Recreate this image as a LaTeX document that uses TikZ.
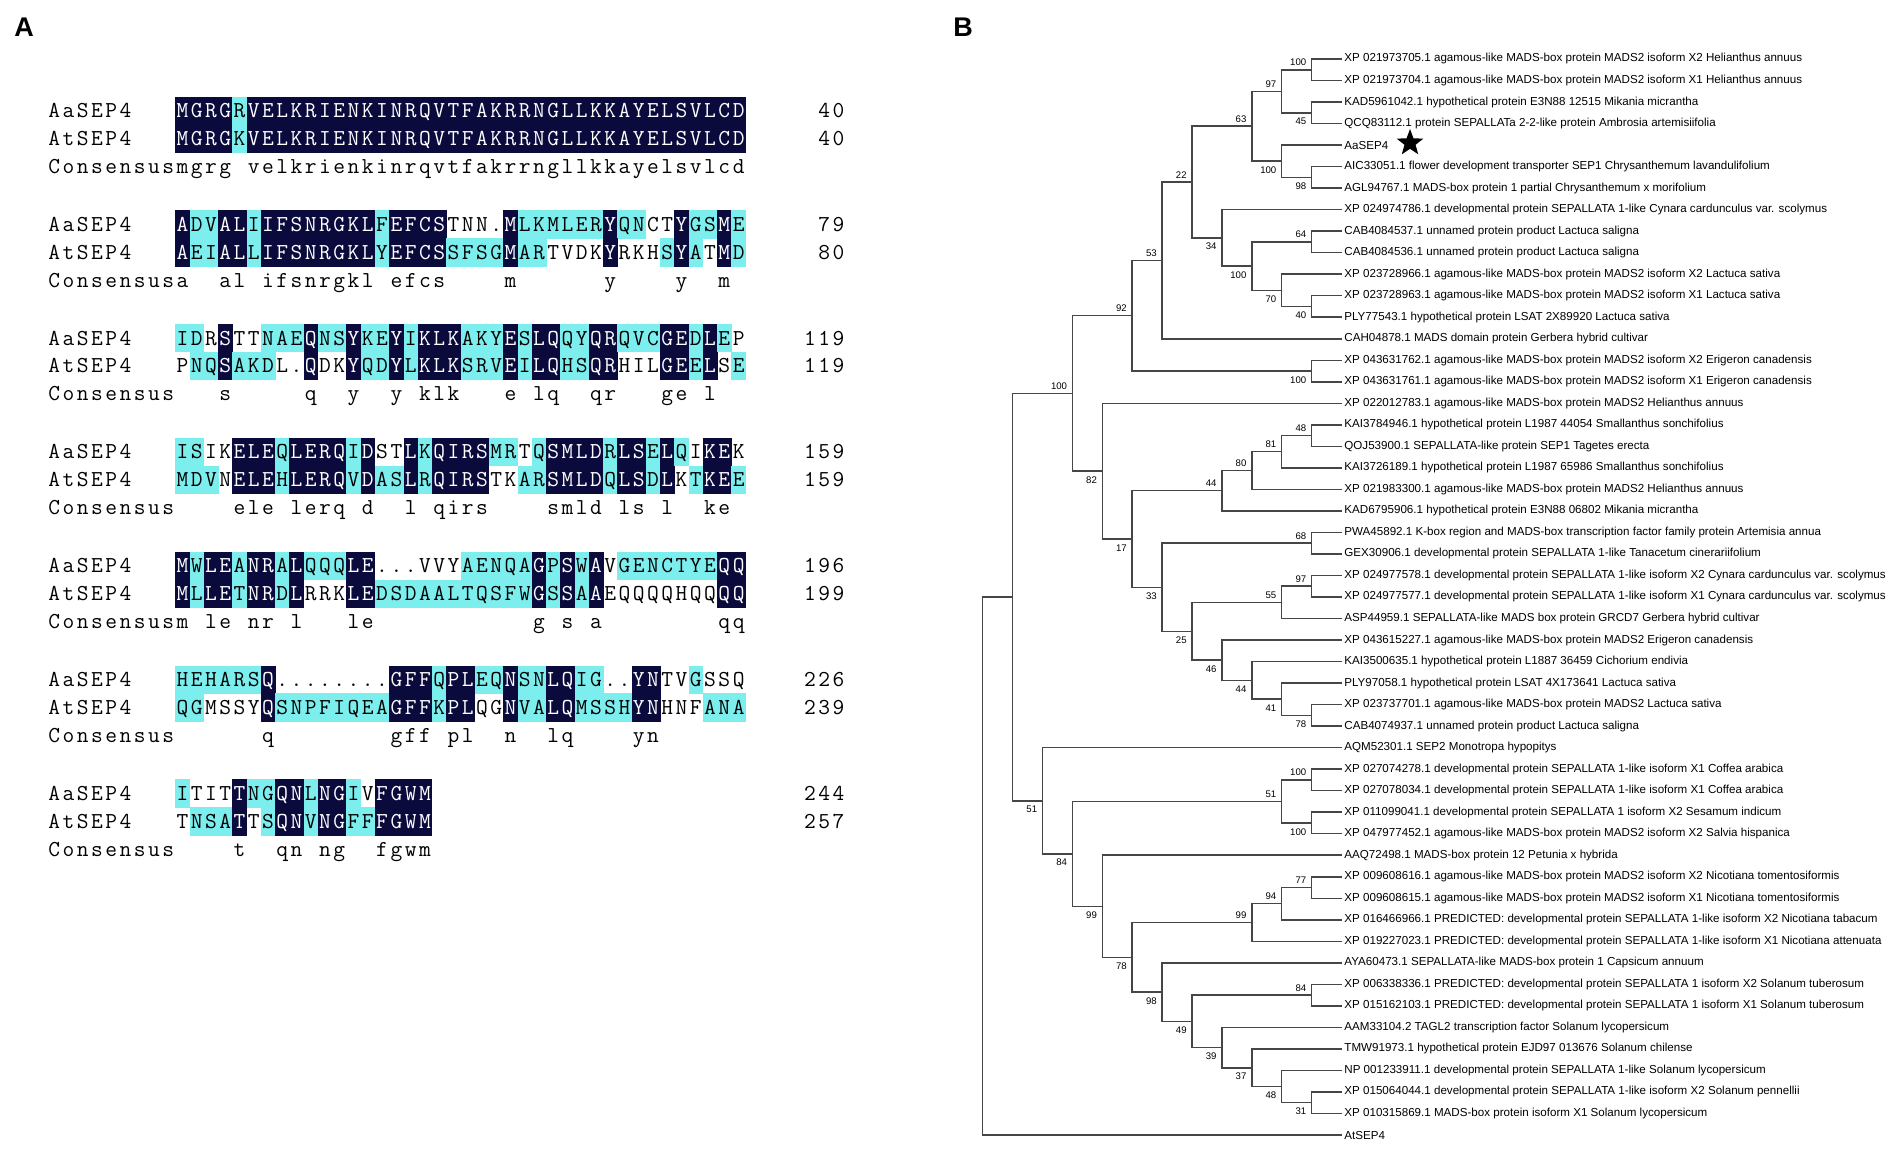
\documentclass[tikz,border=0pt]{standalone}
\usepackage{fontspec}
\usepackage{tikz}
\usetikzlibrary{shapes.geometric}
\newfontfamily\treefont{Liberation Sans}
\definecolor{aldark}{RGB}{10,10,60}
\definecolor{allight}{RGB}{125,238,238}
\definecolor{treegray}{RGB}{70,70,70}
\tikzset{
  alchar/.style={font=\ttfamily\fontsize{11.4}{11.4}\selectfont, anchor=base, inner sep=0pt},
  treeline/.style={draw=treegray, line width=0.75pt},
  leaflab/.style={font=\treefont\fontsize{5.8}{6}\selectfont, anchor=west, inner sep=0pt, xshift=1.25pt},
  bsup/.style={font=\treefont\fontsize{4.8}{5}\selectfont, anchor=south east, inner sep=0pt, xshift=-2.5pt, yshift=1.8pt},
  bsdn/.style={font=\treefont\fontsize{4.8}{5}\selectfont, anchor=north east, inner sep=0pt, xshift=-2.5pt, yshift=-2.5pt},
  panel/.style={font=\treefont\bfseries\fontsize{13.5}{13.5}\selectfont, inner sep=0pt}
}
% alignment grid: one cell per residue, shading pass then text pass
\newif\ifaltextpass
\newcount\alcol
\def\alpitch{14.26}
\def\alcell#1#2{%
  \pgfmathsetmacro\alx{47+\the\alcol*\alpitch}%
  \ifaltextpass
    \ifx D#2\node[alchar,text=white] at (\alx+7.13,\aly) {#1};\else\node[alchar] at (\alx+7.13,\aly) {#1};\fi
  \else
    \ifx D#2\fill[aldark] (\alx,\aly-20.95) rectangle ++(\alpitch+0.4,28.3);\fi
    \ifx L#2\fill[allight] (\alx,\aly-20.95) rectangle ++(\alpitch+0.4,28.3);\fi
  \fi}
\def\alnext#1#2\relax#3#4\relax{%
  \ifx!#1\else
    \alcell{#1}{#3}%
    \advance\alcol by 1\relax
    \alnext#2\relax#4\relax
  \fi}
\def\alseq#1#2#3#4{\alcol=#2\relax\def\aly{#1}\alnext#3!\relax#4----------!\relax}
\def\altext#1#2#3{\ifaltextpass\alcol=#2\relax\def\aly{#1}\altnext#3!\fi}
\def\altnext#1{%
  \ifx!#1\else
    \ifx*#1\else\node[alchar] at ({47+(\the\alcol+0.5)*\alpitch},\aly) {#1};\fi
    \advance\alcol by 1\relax
    \expandafter\altnext
  \fi}
\newcommand\alrow[6]{\altext{#1}{0}{#2}\alseq{#1}{9}{#3}{#4}\altext{#1}{#5}{#6}}
\newcommand\alcons[2]{\altext{#1}{0}{Consensus#2}}
\newcommand\alldata{%
  \alrow{117.5}{AaSEP4}{MGRGRVELKRIENKINRQVTFAKRRNGLLKKAYELSVLCD}{DDDDLDDDDDDDDDDDDDDDDDDDDDDDDDDDDDDDDDDD}{54}{40}
  \alrow{145.4}{AtSEP4}{MGRGKVELKRIENKINRQVTFAKRRNGLLKKAYELSVLCD}{DDDDLDDDDDDDDDDDDDDDDDDDDDDDDDDDDDDDDDDD}{54}{40}
  \alcons{173.3}{mgrg*velkrienkinrqvtfakrrngllkkayelsvlcd}
  \alrow{231.3}{AaSEP4}{ADVALIIFSNRGKLFEFCSTNN.MLKMLERYQNCTYGSME}{DLLDDLDDDDDDDDLDDDD----DLLLLLLDLL--DLLDL}{54}{79}
  \alrow{259.2}{AtSEP4}{AEIALLIFSNRGKLYEFCSSFSGMARTVDKYRKHSYATMD}{DLLDDLDDDDDDDDLDDDDLLLLDLL----D---LDL-DL}{54}{80}
  \alcons{287.1}{a**al*ifsnrgkl*efcs****m******y****y**m}
  \alrow{345.1}{AaSEP4}{IDRSTTNAEQNSYKEYIKLKAKYESLQQYQRQVCGEDLEP}{LL-D--LLLDLLDLLDLDDDLLLDLDDLLDDLLLDDLDL-}{53}{119}
  \alrow{373.0}{AtSEP4}{PNQSAKDL.QDKYQDYLKLKSRVEILQHSQRHILGEELSE}{-LLDLLL--D--DLLDLDDDLLLDLDDLLDD---DDLD-L}{53}{119}
  \alcons{400.9}{***s*****q**y**y*klk***e*lq**qr***ge*l}
  \alrow{458.9}{AaSEP4}{ISIKELEQLERQIDSTLKQIRSMRTQSMLDRLSELQIKEK}{LL--DDDLDDDDLD--DLDDDDLL-LDDDDLDDLDL-DD-}{53}{159}
  \alrow{486.8}{AtSEP4}{MDVNELEHLERQVDASLRQIRSTKARSMLDQLSDLKTKEE}{LLL-DDDLDDDDLDLLDLDDDD--LLDDDDLDDLD-LDDL}{53}{159}
  \alcons{514.7}{****ele*lerq*d**l*qirs****smld*ls*l**ke}
  \alrow{572.7}{AaSEP4}{MWLEANRALQQQLE...VVYAENQAGPSWAVGENCTYEQQ}{DLDDLDDLDLLLDD------LLLLLDLDLD-LLLLLLLDD}{53}{196}
  \alrow{600.6}{AtSEP4}{MLLETNRDLRRKLEDSDAALTQSFWGSSAAEQQQQHQQQQ}{DLDDLDDLD---DDLLLLLLLLLLLDLDLD--------DD}{53}{199}
  \alcons{628.5}{m*le*nr*l***le***********g*s*a********qq}
  \alrow{686.5}{AaSEP4}{HEHARSQ........GFFQPLEQNSNLQIG..YNTVGSSQ}{LLLLLLD--------DDDLDDLLDLLDDLL--DD--L---}{53}{226}
  \alrow{714.4}{AtSEP4}{QGMSSYQSNPFIQEAGFFKPLQGNVALQMSSHYNHNFANA}{LL----DLLLLLLLLDDDLDD--DLLDDLLLLDD---LLL}{53}{239}
  \alcons{742.3}{******q********gff*pl**n**lq****yn}
  \alrow{800.3}{AaSEP4}{ITITTNGQNLNGIVFGWM}{L---DLLDDLDDL-DDDD}{53}{244}
  \alrow{828.2}{AtSEP4}{TNSATTSQNVNGFFFGWM}{-LLLD-LDDLDDLLDDDD}{53}{257}
  \alcons{856.1}{****t**qn*ng**fgwm}}

\begin{document}
\begin{tikzpicture}[x=0.5pt, y=-0.5pt]
  \fill[white] (0,0) rectangle (1904,1154);
  \useasboundingbox (0,0) rectangle (1904,1154);

  \node[panel] (pa) at (24,27) {A};
  \node[panel] (pb) at (963,27) {B};

  % A: alignment
  \altextpassfalse \alldata
  \altextpasstrue \alldata

  % B: tree, x = level, y = leaf index
  \begin{scope}[shift={(982.7,59)}, x=14.95pt, y=-10.76pt]
    \foreach \txt [count=\i] in {
      XP 021973705.1 agamous-like MADS-box protein MADS2 isoform X2 Helianthus annuus,
      XP 021973704.1 agamous-like MADS-box protein MADS2 isoform X1 Helianthus annuus,
      KAD5961042.1 hypothetical protein E3N88 12515 Mikania micrantha,
      QCQ83112.1 protein SEPALLATa 2-2-like protein Ambrosia artemisiifolia,
      AaSEP4,
      AIC33051.1 flower development transporter SEP1 Chrysanthemum lavandulifolium,
      AGL94767.1 MADS-box protein 1 partial Chrysanthemum x morifolium,
      XP 024974786.1 developmental protein SEPALLATA 1-like Cynara cardunculus var. scolymus,
      CAB4084537.1 unnamed protein product Lactuca saligna,
      CAB4084536.1 unnamed protein product Lactuca saligna,
      XP 023728966.1 agamous-like MADS-box protein MADS2 isoform X2 Lactuca sativa,
      XP 023728963.1 agamous-like MADS-box protein MADS2 isoform X1 Lactuca sativa,
      PLY77543.1 hypothetical protein LSAT 2X89920 Lactuca sativa,
      CAH04878.1 MADS domain protein Gerbera hybrid cultivar,
      XP 043631762.1 agamous-like MADS-box protein MADS2 isoform X2 Erigeron canadensis,
      XP 043631761.1 agamous-like MADS-box protein MADS2 isoform X1 Erigeron canadensis,
      XP 022012783.1 agamous-like MADS-box protein MADS2 Helianthus annuus,
      KAI3784946.1 hypothetical protein L1987 44054 Smallanthus sonchifolius,
      QOJ53900.1 SEPALLATA-like protein SEP1 Tagetes erecta,
      KAI3726189.1 hypothetical protein L1987 65986 Smallanthus sonchifolius,
      XP 021983300.1 agamous-like MADS-box protein MADS2 Helianthus annuus,
      KAD6795906.1 hypothetical protein E3N88 06802 Mikania micrantha,
      PWA45892.1 K-box region and MADS-box transcription factor family protein Artemisia annua,
      GEX30906.1 developmental protein SEPALLATA 1-like Tanacetum cinerariifolium,
      XP 024977578.1 developmental protein SEPALLATA 1-like isoform X2 Cynara cardunculus var. scolymus,
      XP 024977577.1 developmental protein SEPALLATA 1-like isoform X1 Cynara cardunculus var. scolymus,
      ASP44959.1 SEPALLATA-like MADS box protein GRCD7 Gerbera hybrid cultivar,
      XP 043615227.1 agamous-like MADS-box protein MADS2 Erigeron canadensis,
      KAI3500635.1 hypothetical protein L1887 36459 Cichorium endivia,
      PLY97058.1 hypothetical protein LSAT 4X173641 Lactuca sativa,
      XP 023737701.1 agamous-like MADS-box protein MADS2 Lactuca sativa,
      CAB4074937.1 unnamed protein product Lactuca saligna,
      AQM52301.1 SEP2 Monotropa hypopitys,
      XP 027074278.1 developmental protein SEPALLATA 1-like isoform X1 Coffea arabica,
      XP 027078034.1 developmental protein SEPALLATA 1-like isoform X1 Coffea arabica,
      XP 011099041.1 developmental protein SEPALLATA 1 isoform X2 Sesamum indicum,
      XP 047977452.1 agamous-like MADS-box protein MADS2 isoform X2 Salvia hispanica,
      AAQ72498.1 MADS-box protein 12 Petunia x hybrida,
      XP 009608616.1 agamous-like MADS-box protein MADS2 isoform X2 Nicotiana tomentosiformis,
      XP 009608615.1 agamous-like MADS-box protein MADS2 isoform X1 Nicotiana tomentosiformis,
      XP 016466966.1 PREDICTED: developmental protein SEPALLATA 1-like isoform X2 Nicotiana tabacum,
      XP 019227023.1 PREDICTED: developmental protein SEPALLATA 1-like isoform X1 Nicotiana attenuata,
      AYA60473.1 SEPALLATA-like MADS-box protein 1 Capsicum annuum,
      XP 006338336.1 PREDICTED: developmental protein SEPALLATA 1 isoform X2 Solanum tuberosum,
      XP 015162103.1 PREDICTED: developmental protein SEPALLATA 1 isoform X1 Solanum tuberosum,
      AAM33104.2 TAGL2 transcription factor Solanum lycopersicum,
      TMW91973.1 hypothetical protein EJD97 013676 Solanum chilense,
      NP 001233911.1 developmental protein SEPALLATA 1-like Solanum lycopersicum,
      XP 015064044.1 developmental protein SEPALLATA 1-like isoform X2 Solanum pennellii,
      XP 010315869.1 MADS-box protein isoform X1 Solanum lycopersicum,
      AtSEP4}
    {
      \coordinate (l\i) at (12,\i-1);
      \node[leaflab] (t\i) at (l\i) {\txt};
    }
    % inner nodes
    \coordinate (a12) at (11,0.5);
    \coordinate (a34) at (11,2.5);
    \coordinate (a14) at (10,1.5);
    \coordinate (a67) at (11,5.5);
    \coordinate (a57) at (10,4.75);
    \coordinate (a17) at (9,3.125);
    \coordinate (a910) at (11,8.5);
    \coordinate (a1213) at (11,11.5);
    \coordinate (a1113) at (10,10.75);
    \coordinate (a913) at (9,9.625);
    \coordinate (a813) at (8,8.3125);
    \coordinate (a113) at (7,5.71875);
    \coordinate (a114) at (6,9.359);
    \coordinate (a1516) at (11,14.5);
    \coordinate (a116) at (5,11.93);
    \coordinate (b1819) at (11,17.5);
    \coordinate (b1820) at (10,18.25);
    \coordinate (b1821) at (9,19.125);
    \coordinate (b1822) at (8,20.0625);
    \coordinate (b2324) at (11,22.5);
    \coordinate (b2526) at (11,24.5);
    \coordinate (b2527) at (10,25.25);
    \coordinate (b3132) at (11,30.5);
    \coordinate (b3032) at (10,29.75);
    \coordinate (b2932) at (9,28.875);
    \coordinate (b2832) at (8,27.9375);
    \coordinate (b2532) at (7,26.594);
    \coordinate (b2332) at (6,24.547);
    \coordinate (b1832) at (5,22.305);
    \coordinate (b1732) at (4,19.152);
    \coordinate (c132) at (3,15.541);
    \coordinate (d3435) at (11,33.5);
    \coordinate (d3637) at (11,35.5);
    \coordinate (d3437) at (10,34.5);
    \coordinate (e3940) at (11,38.5);
    \coordinate (e3941) at (10,39.25);
    \coordinate (e3942) at (9,40.125);
    \coordinate (f4445) at (11,43.5);
    \coordinate (f4950) at (11,48.5);
    \coordinate (f4850) at (10,47.75);
    \coordinate (f4750) at (9,46.875);
    \coordinate (f4650) at (8,45.9375);
    \coordinate (f4450) at (7,44.719);
    \coordinate (f4350) at (6,43.359);
    \coordinate (e3950) at (5,41.742);
    \coordinate (e3850) at (4,39.371);
    \coordinate (d3450) at (3,36.936);
    \coordinate (d3350) at (2,34.468);
    \coordinate (g150) at (1,25.005);
    \coordinate (root) at (0,37.502);
    % branches
    \draw[treeline] (l1) -| (a12) |- (l2);
    \draw[treeline] (l3) -| (a34) |- (l4);
    \draw[treeline] (a12) -| (a14) |- (a34);
    \draw[treeline] (l6) -| (a67) |- (l7);
    \draw[treeline] (l5) -| (a57) |- (a67);
    \draw[treeline] (a14) -| (a17) |- (a57);
    \draw[treeline] (l9) -| (a910) |- (l10);
    \draw[treeline] (l12) -| (a1213) |- (l13);
    \draw[treeline] (l11) -| (a1113) |- (a1213);
    \draw[treeline] (a910) -| (a913) |- (a1113);
    \draw[treeline] (l8) -| (a813) |- (a913);
    \draw[treeline] (a17) -| (a113) |- (a813);
    \draw[treeline] (a113) -| (a114) |- (l14);
    \draw[treeline] (l15) -| (a1516) |- (l16);
    \draw[treeline] (a114) -| (a116) |- (a1516);
    \draw[treeline] (l18) -| (b1819) |- (l19);
    \draw[treeline] (b1819) -| (b1820) |- (l20);
    \draw[treeline] (b1820) -| (b1821) |- (l21);
    \draw[treeline] (b1821) -| (b1822) |- (l22);
    \draw[treeline] (l23) -| (b2324) |- (l24);
    \draw[treeline] (l25) -| (b2526) |- (l26);
    \draw[treeline] (b2526) -| (b2527) |- (l27);
    \draw[treeline] (l31) -| (b3132) |- (l32);
    \draw[treeline] (l30) -| (b3032) |- (b3132);
    \draw[treeline] (l29) -| (b2932) |- (b3032);
    \draw[treeline] (l28) -| (b2832) |- (b2932);
    \draw[treeline] (b2527) -| (b2532) |- (b2832);
    \draw[treeline] (b2324) -| (b2332) |- (b2532);
    \draw[treeline] (b1822) -| (b1832) |- (b2332);
    \draw[treeline] (l17) -| (b1732) |- (b1832);
    \draw[treeline] (a116) -| (c132) |- (b1732);
    \draw[treeline] (l34) -| (d3435) |- (l35);
    \draw[treeline] (l36) -| (d3637) |- (l37);
    \draw[treeline] (d3435) -| (d3437) |- (d3637);
    \draw[treeline] (l39) -| (e3940) |- (l40);
    \draw[treeline] (e3940) -| (e3941) |- (l41);
    \draw[treeline] (e3941) -| (e3942) |- (l42);
    \draw[treeline] (l44) -| (f4445) |- (l45);
    \draw[treeline] (l49) -| (f4950) |- (l50);
    \draw[treeline] (l48) -| (f4850) |- (f4950);
    \draw[treeline] (l47) -| (f4750) |- (f4850);
    \draw[treeline] (l46) -| (f4650) |- (f4750);
    \draw[treeline] (f4445) -| (f4450) |- (f4650);
    \draw[treeline] (l43) -| (f4350) |- (f4450);
    \draw[treeline] (e3942) -| (e3950) |- (f4350);
    \draw[treeline] (l38) -| (e3850) |- (e3950);
    \draw[treeline] (d3437) -| (d3450) |- (e3850);
    \draw[treeline] (l33) -| (d3350) |- (d3450);
    \draw[treeline] (c132) -| (g150) |- (d3350);
    \draw[treeline] (g150) -| (root) |- (l51);
    % bootstrap values
    \node[bsup] (sa12) at (a12) {100};
    \node[bsdn] (sa34) at (a34) {45};
    \node[bsup] (sa14) at (a14) {97};
    \node[bsdn] (sa67) at (a67) {98};
    \node[bsdn] (sa57) at (a57) {100};
    \node[bsup] (sa17) at (a17) {63};
    \node[bsup] (sa910) at (a910) {64};
    \node[bsdn] (sa1213) at (a1213) {40};
    \node[bsdn] (sa1113) at (a1113) {70};
    \node[bsdn] (sa913) at (a913) {100};
    \node[bsdn] (sa813) at (a813) {34};
    \node[bsup] (sa113) at (a113) {22};
    \node[bsup] (sa114) at (a114) {53};
    \node[bsdn] (sa1516) at (a1516) {100};
    \node[bsup] (sa116) at (a116) {92};
    \node[bsup] (sc132) at (c132) {100};
    \node[bsup] (sb1819) at (b1819) {48};
    \node[bsup] (sb1820) at (b1820) {81};
    \node[bsup] (sb1821) at (b1821) {80};
    \node[bsup] (sb1822) at (b1822) {44};
    \node[bsup] (sb2324) at (b2324) {68};
    \node[bsup] (sb2526) at (b2526) {97};
    \node[bsup] (sb2527) at (b2527) {55};
    \node[bsdn] (sb3132) at (b3132) {78};
    \node[bsdn] (sb3032) at (b3032) {41};
    \node[bsdn] (sb2932) at (b2932) {44};
    \node[bsdn] (sb2832) at (b2832) {46};
    \node[bsdn] (sb2532) at (b2532) {25};
    \node[bsdn] (sb2332) at (b2332) {33};
    \node[bsdn] (sb1832) at (b1832) {17};
    \node[bsdn] (sb1732) at (b1732) {82};
    \node[bsup] (sd3435) at (d3435) {100};
    \node[bsdn] (sd3637) at (d3637) {100};
    \node[bsup] (sd3437) at (d3437) {51};
    \node[bsup] (se3940) at (e3940) {77};
    \node[bsup] (se3941) at (e3941) {94};
    \node[bsup] (se3942) at (e3942) {99};
    \node[bsup] (sf4445) at (f4445) {84};
    \node[bsdn] (sf4950) at (f4950) {31};
    \node[bsdn] (sf4850) at (f4850) {48};
    \node[bsdn] (sf4750) at (f4750) {37};
    \node[bsdn] (sf4650) at (f4650) {39};
    \node[bsdn] (sf4450) at (f4450) {49};
    \node[bsdn] (sf4350) at (f4350) {98};
    \node[bsdn] (se3950) at (e3950) {78};
    \node[bsdn] (se3850) at (e3850) {99};
    \node[bsdn] (sd3450) at (d3450) {84};
    \node[bsdn] (sd3350) at (d3350) {51};
  \end{scope}
  \node[star, star points=5, star point ratio=2.4, fill=black, minimum size=14pt, inner sep=0pt] (aastar) at (1410,143) {}; % AaSEP4 mark
\end{tikzpicture}
\end{document}
